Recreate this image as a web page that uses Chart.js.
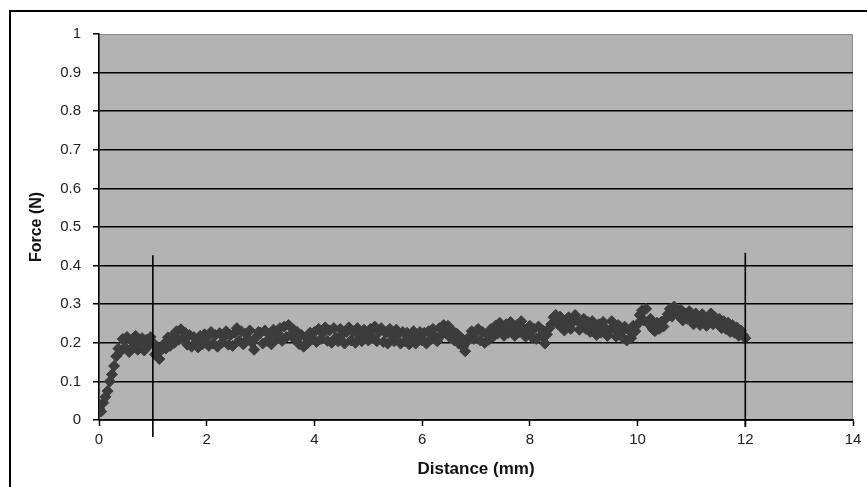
<!DOCTYPE html>
<html><head><meta charset="utf-8">
<script src="https://cdn.jsdelivr.net/npm/chart.js@4.4.0/dist/chart.umd.min.js"></script>
<style>
html,body{margin:0;padding:0;background:#fff;}
#wrap{position:relative;width:867px;height:487px;overflow:hidden;}
#frame{position:absolute;left:9px;top:10px;width:900px;height:600px;border-left:2px solid #000;border-top:2px solid #000;}
canvas{position:absolute;left:0;top:0;}
</style>
</head><body>
<div id="wrap"><div id="frame"></div><canvas id="c" width="867" height="487"></canvas></div>
<script>
// Distance sampling (mm)
const distanceStart = 0;
const distanceStep = 0.04;
// Force (N), one row per mm
const force = [
 0.030,0.022,0.045,0.060,0.075,0.100,0.118,0.140,0.165,0.185,0.178,0.210,0.188,0.215,0.176,0.205,0.190,0.218,0.182,0.200,0.212,0.180,0.208,0.193,0.215,
 0.200,0.170,0.188,0.158,0.182,0.196,0.185,0.214,0.192,0.218,0.200,0.230,0.208,0.235,0.212,0.226,0.195,0.220,0.190,0.215,0.198,0.188,0.218,0.196,0.222,
 0.214,0.192,0.228,0.198,0.220,0.190,0.225,0.200,0.216,0.230,0.195,0.220,0.192,0.226,0.238,0.205,0.230,0.196,0.224,0.210,0.232,0.200,0.182,0.215,0.228,
 0.226,0.198,0.232,0.205,0.222,0.196,0.234,0.208,0.224,0.238,0.205,0.242,0.215,0.246,0.220,0.236,0.208,0.228,0.196,0.220,0.190,0.214,0.200,0.226,0.210,
 0.228,0.202,0.236,0.210,0.226,0.240,0.205,0.232,0.200,0.238,0.214,0.204,0.236,0.222,0.198,0.228,0.240,0.206,0.230,0.200,0.238,0.216,0.204,0.234,0.220,
 0.206,0.236,0.214,0.242,0.204,0.228,0.238,0.202,0.226,0.198,0.236,0.218,0.204,0.234,0.222,0.198,0.228,0.204,0.226,0.196,0.214,0.230,0.198,0.212,0.228,
 0.206,0.226,0.198,0.230,0.210,0.236,0.216,0.204,0.238,0.220,0.246,0.226,0.244,0.214,0.232,0.206,0.224,0.198,0.214,0.190,0.178,0.204,0.216,0.230,0.210,
 0.226,0.236,0.206,0.228,0.200,0.224,0.208,0.236,0.216,0.244,0.224,0.252,0.230,0.218,0.248,0.226,0.254,0.236,0.218,0.246,0.228,0.256,0.238,0.216,0.232,
 0.244,0.214,0.236,0.210,0.242,0.218,0.232,0.198,0.222,0.238,0.248,0.266,0.272,0.248,0.268,0.240,0.232,0.256,0.266,0.236,0.254,0.272,0.258,0.234,0.252,
 0.262,0.236,0.254,0.228,0.256,0.240,0.220,0.248,0.226,0.254,0.238,0.218,0.232,0.256,0.240,0.216,0.246,0.226,0.214,0.242,0.206,0.232,0.212,0.244,0.230,
 0.248,0.272,0.284,0.258,0.288,0.250,0.262,0.236,0.230,0.252,0.236,0.254,0.242,0.262,0.274,0.288,0.268,0.294,0.280,0.270,0.286,0.258,0.276,0.262,0.282,
 0.262,0.248,0.276,0.256,0.246,0.274,0.260,0.244,0.264,0.276,0.248,0.266,0.250,0.262,0.238,0.256,0.236,0.252,0.228,0.246,0.226,0.240,0.218,0.232,0.220,0.212
];
const xTicks = [0, 2, 4, 6, 8, 10, 12, 14];
const yTicks = [0, 0.1, 0.2, 0.3, 0.4, 0.5, 0.6, 0.7, 0.8, 0.9, 1];
// Two vertical marker lines (start / end of measurement window)
const markerAX = [1, 1];
const markerAY = [-0.044, 0.427];
const markerBX = [12, 12];
const markerBY = [-0.018, 0.433];

const points = force.map((y, i) => ({ x: +(distanceStart + i * distanceStep).toFixed(2), y }));
const lineA = markerAX.map((x, i) => ({ x, y: markerAY[i] }));
const lineB = markerBX.map((x, i) => ({ x, y: markerBY[i] }));

const FONT = "'Liberation Sans', Arial, sans-serif";

const plotBg = {
  id: 'plotBg',
  beforeDraw(chart) {
    const { ctx, chartArea: a } = chart;
    ctx.save();
    ctx.fillStyle = '#b3b3b3';
    ctx.fillRect(a.left, a.top, a.right - a.left, a.bottom - a.top);
    ctx.strokeStyle = '#8a8a8a';
    ctx.lineWidth = 1;
    ctx.strokeRect(a.left + 0.5, a.top + 0.5, a.right - a.left - 1, a.bottom - a.top);
    ctx.restore();
  }
};

new Chart(document.getElementById('c'), {
  type: 'scatter',
  data: {
    datasets: [
      { data: lineA, showLine: true, borderColor: '#000', borderWidth: 1.6, pointRadius: 0, clip: false },
      { data: lineB, showLine: true, borderColor: '#000', borderWidth: 1.6, pointRadius: 0, clip: false },
      { data: points, showLine: false, pointStyle: 'rectRot', pointRadius: 5.5,
        backgroundColor: '#3c3c3c', borderColor: '#3c3c3c', borderWidth: 1 }
    ]
  },
  options: {
    responsive: false,
    animation: false,
    devicePixelRatio: 1,
    layout: { padding: { left: 0, top: 34, right: 14, bottom: 0 } },
    plugins: { legend: { display: false }, tooltip: { enabled: false } },
    scales: {
      x: {
        type: 'linear', min: 0, max: 14,
        afterBuildTicks: s => { s.ticks = xTicks.map(v => ({ value: v })); },
        afterFit: s => { s.height = 67; },
        grid: { drawOnChartArea: false, drawTicks: true, tickLength: 6, tickColor: '#000', tickWidth: 1.5 },
        border: { display: true, color: '#000', width: 1.5 },
        ticks: { color: '#222', font: { family: FONT, size: 15 }, padding: 5, maxRotation: 0,
                 callback: v => String(v) },
        title: { display: true, text: 'Distance (mm)', color: '#111',
                 font: { family: FONT, size: 17, weight: 'bold' }, padding: { top: 0, bottom: 7 } }
      },
      y: {
        type: 'linear', min: 0, max: 1,
        afterBuildTicks: s => { s.ticks = yTicks.map(v => ({ value: v })); },
        afterFit: s => { s.width = 99; },
        grid: { color: c => (c.tick && c.tick.value === 1 ? 'rgba(0,0,0,0)' : '#000'), lineWidth: 1.5,
                drawTicks: true, tickLength: 6, tickColor: '#000', tickWidth: 1.5 },
        border: { display: true, color: '#000', width: 1.5 },
        ticks: { color: '#222', font: { family: FONT, size: 15 }, padding: 12,
                 callback: v => String(v) },
        title: { display: true, text: 'Force (N)', color: '#111',
                 font: { family: FONT, size: 16, weight: 'bold' }, padding: { top: 27, bottom: 0 } }
      }
    }
  },
  plugins: [plotBg]
});
</script>
</body></html>
